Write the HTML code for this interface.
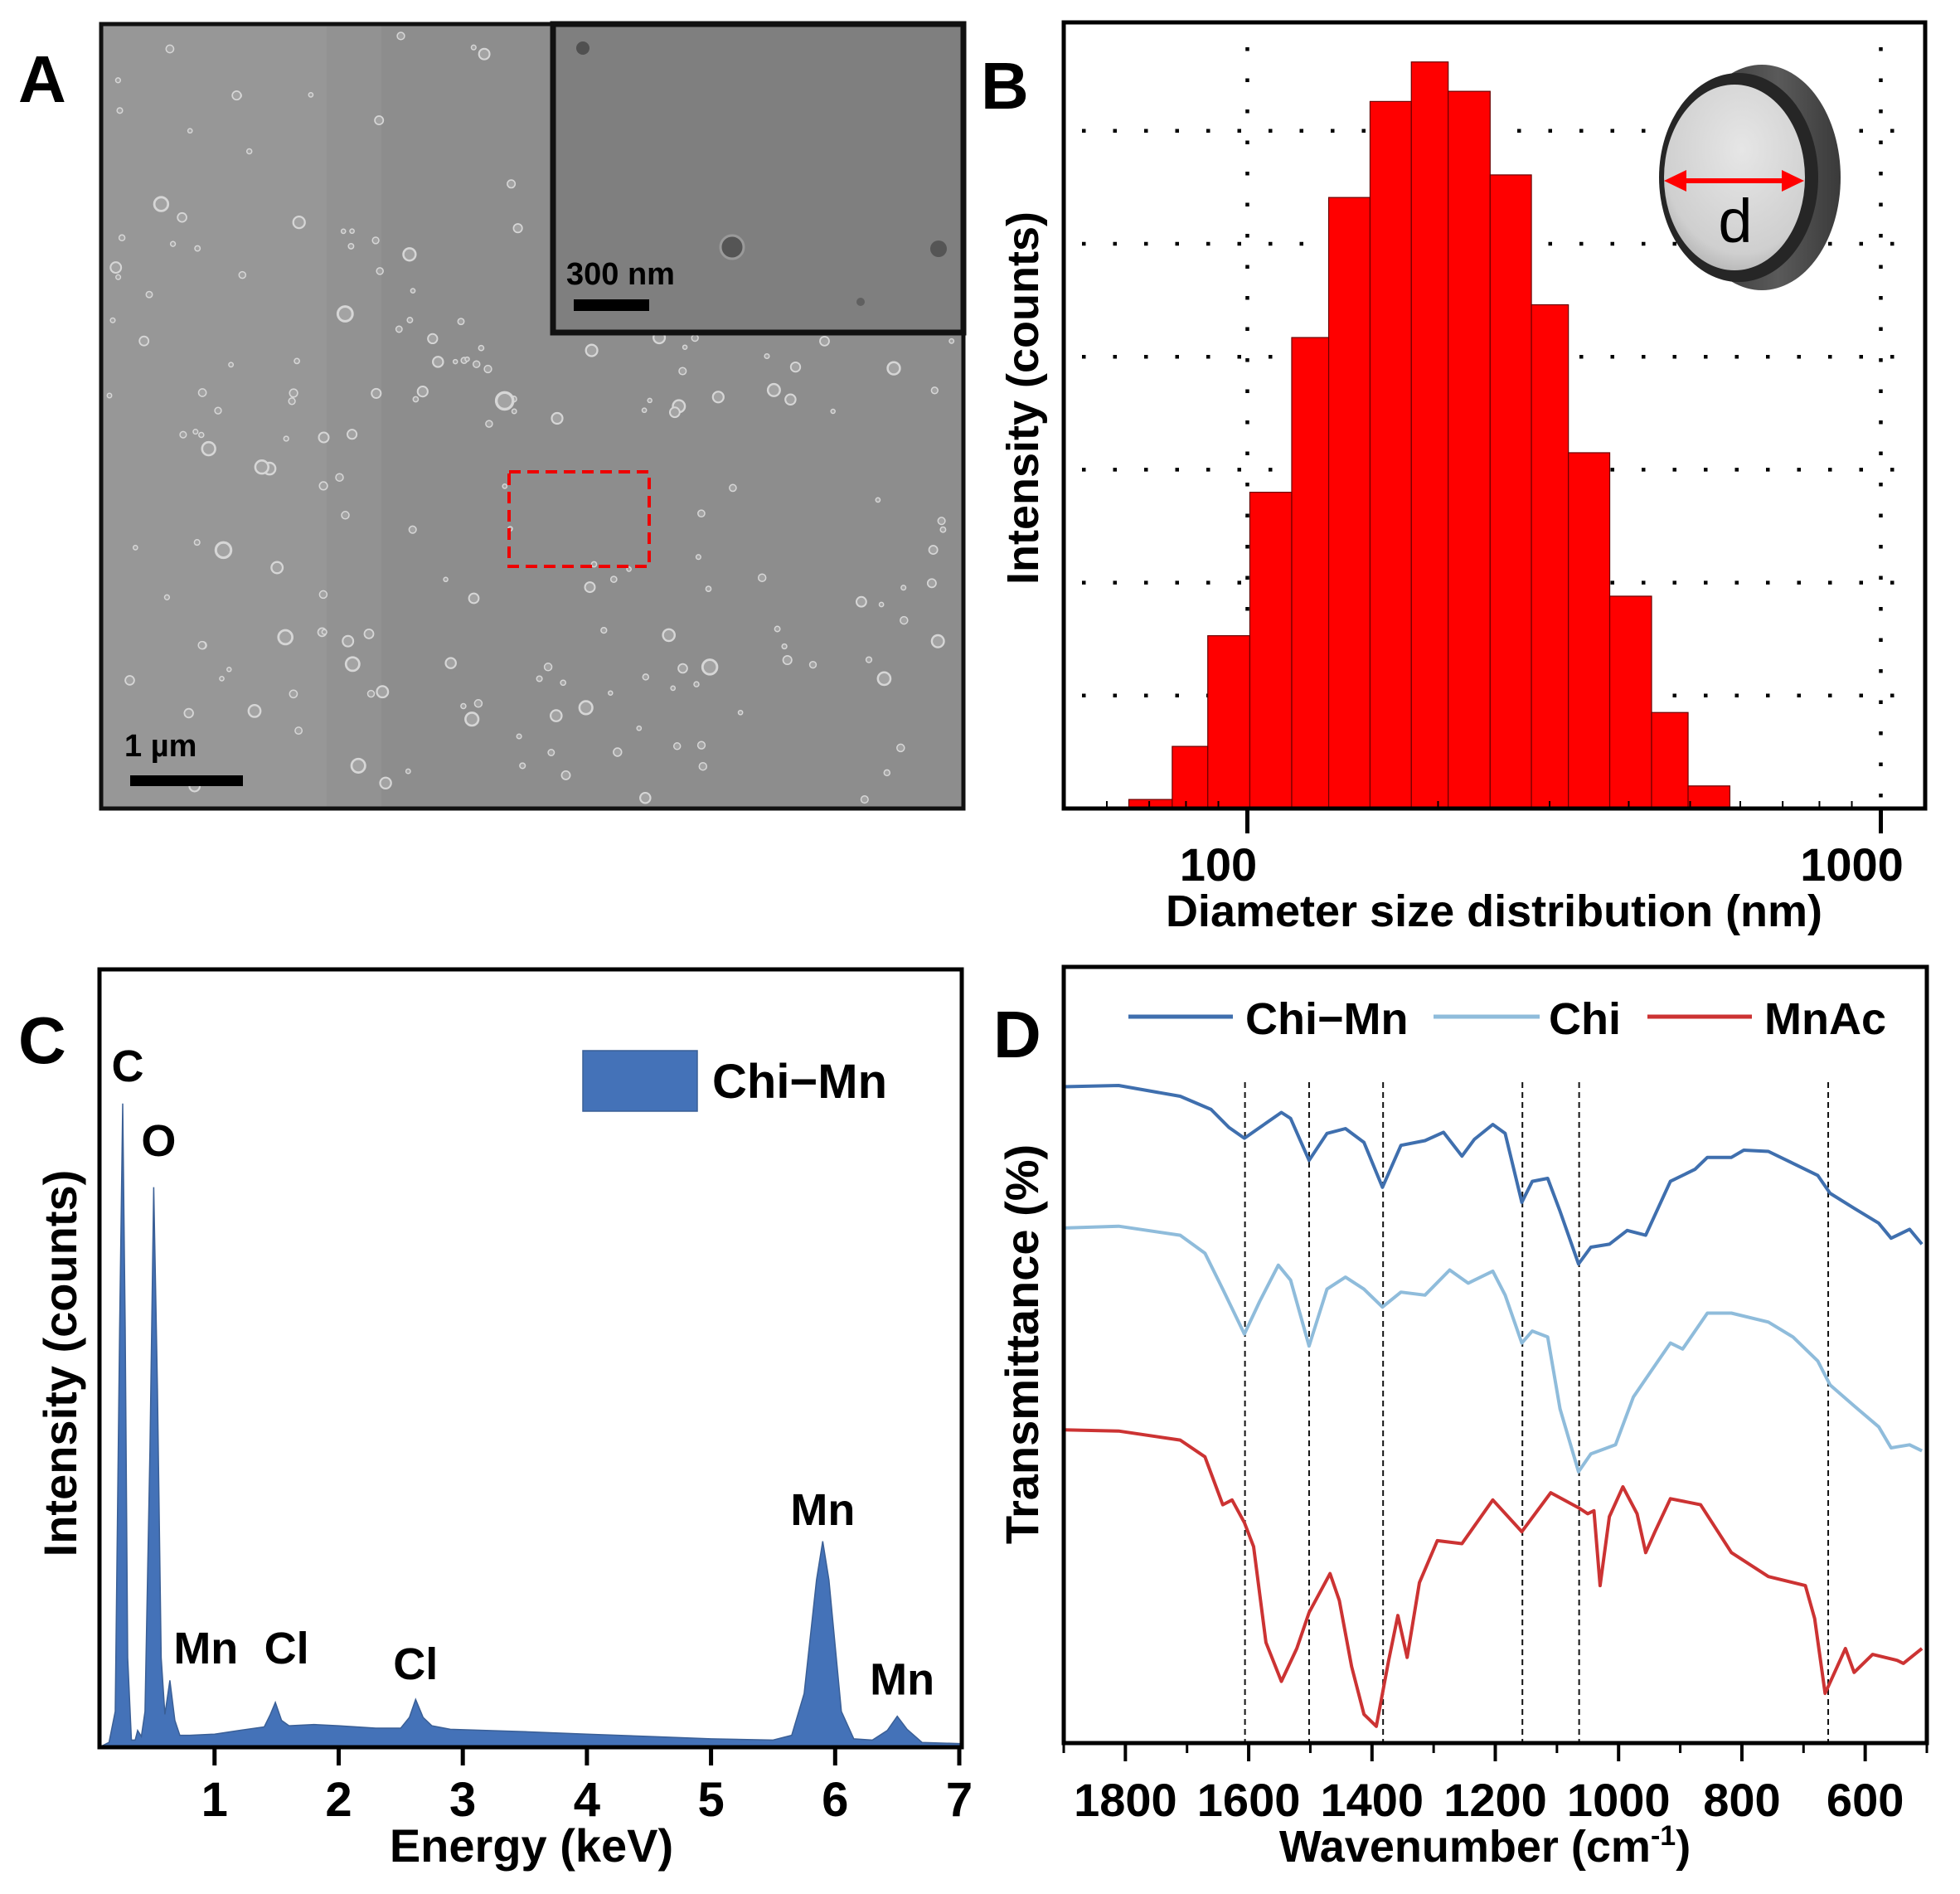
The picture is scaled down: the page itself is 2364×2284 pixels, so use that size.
<!DOCTYPE html>
<html><head><meta charset="utf-8"><style>
html,body{margin:0;padding:0;background:#fff}
svg{display:block;font-family:"Liberation Sans",Arial,sans-serif}
</style></head><body>
<svg id="fig" width="2364" height="2284" viewBox="0 0 2364 2284" xmlns="http://www.w3.org/2000/svg">
<defs>
<linearGradient id="shellG" x1="0" y1="0" x2="1" y2="0"><stop offset="0" stop-color="#2b2b2b"/><stop offset="0.6" stop-color="#5a5a5a"/><stop offset="1" stop-color="#3a3a3a"/></linearGradient>
<radialGradient id="faceG" cx="0.55" cy="0.35" r="0.7"><stop offset="0" stop-color="#e6e6e6"/><stop offset="0.8" stop-color="#cfcfcf"/><stop offset="1" stop-color="#b0b0b0"/></radialGradient>
</defs>
<!-- Panel A -->
<g id="panelA">
<rect x="122" y="29" width="1040" height="946" fill="#8d8d8d"/>
<rect x="122" y="29" width="272" height="946" fill="#979797"/>
<rect x="394" y="29" width="66" height="946" fill="#929292"/>
<g id="particles"></g>
<rect x="667" y="29" width="495" height="372" fill="#7f7f7f" stroke="#111" stroke-width="7"/>
<circle cx="703" cy="58" r="8" fill="#505050"/><circle cx="883" cy="298" r="14" fill="#555" stroke="#9a9a9a" stroke-width="3"/><circle cx="1132" cy="300" r="10" fill="#555"/><circle cx="1038" cy="364" r="5" fill="#606060"/>
<rect x="692" y="361" width="91" height="14" fill="#000"/>
<text x="683" y="343" font-size="38" font-weight="bold">300 nm</text>
<rect x="614" y="569" width="169" height="114" fill="none" stroke="#e00" stroke-width="4" stroke-dasharray="14,8"/>
<rect x="157" y="935" width="136" height="13" fill="#000"/>
<text x="150" y="912" font-size="38" font-weight="bold">1 µm</text>
<rect x="122" y="29" width="1040" height="946" fill="none" stroke="#111" stroke-width="5"/>
<text x="22" y="123" font-size="80" font-weight="bold">A</text>
</g>
<!-- Panel B -->
<g id="panelB">
<g id="bGrid"></g><g id="bBars"></g><g id="bAxis"></g>
<g>
<ellipse cx="2125" cy="214" rx="95" ry="136" fill="url(#shellG)"/>
<ellipse cx="2097" cy="214" rx="96" ry="126" fill="#262626"/>
<ellipse cx="2092" cy="214" rx="85" ry="112" fill="url(#faceG)"/>
<line x1="2022" y1="218" x2="2160" y2="218" stroke="#f00" stroke-width="6"/>
<polygon points="2007,218 2034,205 2034,231" fill="#f00"/><polygon points="2176,218 2149,205 2149,231" fill="#f00"/>
<text x="2093" y="292" font-size="74" text-anchor="middle">d</text>
</g>
<text x="1183" y="131" font-size="80" font-weight="bold">B</text>
</g>
<!-- Panel C -->
<g id="panelC"><g id="cPlot"></g>
<text x="22" y="1282" font-size="80" font-weight="bold">C</text>
</g>
<!-- Panel D -->
<g id="panelD"><g id="dPlot"></g>
<text x="1198" y="1275" font-size="80" font-weight="bold">D</text>
</g>
</svg>
<script>
// ---------- Panel B data ----------
const binEdgesNm=[65.0,76.1,86.6,100.9,117.5,134.4,156.2,181.5,207.5,241.7,280.8,321.2,373.3,434.6,496.3,577.7];
const binCounts=[0.8,5.5,15.3,28.0,41.7,54.1,62.6,66.1,63.5,56.1,44.6,31.5,18.8,8.5,2.0];
const bYGrid=[10,20,30,40,50,60];
const bXTicks=[100,1000];
const bXTickLabels=["100","1000"];
// ---------- Panel C data ----------
const edsEnergy=[0.07,0.15,0.2,0.235,0.26,0.28,0.3,0.33,0.36,0.38,0.41,0.44,0.48,0.51,0.54,0.57,0.6,0.64,0.68,0.72,0.8,1.0,1.2,1.4,1.45,1.49,1.54,1.6,1.8,2.0,2.3,2.5,2.57,2.62,2.68,2.75,2.9,3.5,4.0,4.5,5.0,5.5,5.65,5.75,5.85,5.9,5.95,6.05,6.15,6.3,6.42,6.5,6.58,6.7,7.02];
const edsCounts=[0,8,60,700,1078,700,150,12,12,28,18,60,500,938,600,150,55,112,45,20,20,22,28,34,55,75,45,36,38,36,32,32,50,80,50,36,30,26,22,18,14,12,20,90,280,345,280,60,14,12,28,52,30,8,6];
const edsTicks=[1,2,3,4,5,6,7];
const edsLabels=[{t:"C",e:0.3,c:1115},{t:"O",e:0.55,c:990},{t:"Mn",e:0.93,c:140},{t:"Cl",e:1.58,c:140},{t:"Cl",e:2.62,c:114},{t:"Mn",e:5.9,c:372},{t:"Mn",e:6.54,c:88}];
// ---------- Panel D data ----------
const chiMnWn=[1900,1811,1711,1661,1632,1607,1582,1547,1532,1502,1473,1443,1413,1383,1353,1314,1284,1254,1234,1204,1184,1157,1140,1115,1095,1065,1045,1015,986,956,916,876,856,817,797,757,717,677,657,618,578,558,528,508];
const chiMnT=[109.6,109.8,108,105.8,102.8,101,102.8,105.3,104.3,97.3,101.8,102.6,100.3,92.8,99.8,100.6,102,98,100.8,103.3,101.8,90.3,93.8,94.3,88.8,80,82.8,83.3,85.6,84.8,93.8,95.8,97.8,97.8,99,98.8,96.8,94.8,91.8,89.3,86.8,84.3,85.8,83.3];
const chiWn=[1900,1811,1711,1671,1642,1607,1582,1552,1532,1502,1473,1443,1413,1383,1353,1314,1274,1244,1204,1184,1157,1140,1115,1095,1065,1045,1005,976,936,916,896,856,817,757,717,677,657,618,578,558,528,508];
const chiT=[86,86.3,84.8,81.8,75.8,68.3,73.8,79.8,77.3,66.3,75.8,77.8,75.8,72.8,75.3,74.8,79,76.8,78.8,74.8,66.8,68.8,67.8,55.8,45.3,48.3,49.8,57.8,63.8,66.8,65.8,71.8,71.8,70.3,67.8,63.8,59.8,56.3,52.8,49.3,49.8,48.8];
const mnAcWn=[1900,1811,1711,1671,1642,1627,1607,1592,1572,1547,1522,1502,1468,1453,1433,1413,1393,1373,1358,1343,1323,1294,1254,1204,1157,1110,1065,1050,1040,1030,1015,993,970,956,941,916,867,817,757,697,682,665,632,618,588,548,538,508];
const mnAcT=[52.3,52.1,50.6,47.8,39.8,40.6,36.8,32.8,16.8,10.3,15.8,21.8,28.3,23.8,12.8,4.8,2.8,13.8,21.3,14.3,26.8,33.8,33.3,40.6,35.3,41.8,39.3,38.3,38.8,26.3,37.8,42.8,38.3,31.8,35.3,40.8,39.8,31.8,27.8,26.3,20.8,8.3,15.8,11.8,14.8,13.8,13.3,15.8];
const dashWn=[1606,1502,1382,1156,1064,660];
const dTicks=[1800,1600,1400,1200,1000,800,600];
const dMinor=[1900,1700,1500,1300,1100,900,700,500];

const NS="http://www.w3.org/2000/svg";
function mk(parent,tag,attrs,text){const e=document.createElementNS(NS,tag);for(const k in attrs)e.setAttribute(k,attrs[k]);if(text!==undefined)e.textContent=text;parent.appendChild(e);return e;}

// ---- SEM particles (decorative texture) ----
(function(){const g=document.getElementById('particles');let s=12345;function r(){s=(s*1103515245+12345)%2147483648;return s/2147483648;}
for(let i=0;i<230;i++){const x=130+r()*1025,y=36+r()*930;if(x>660&&y<405)continue;const rad=2.5+r()*r()*8;
const c=mk(g,'circle',{cx:x.toFixed(1),cy:y.toFixed(1),r:rad.toFixed(1),fill:'#a3a3a3',stroke:'#d6d6d6','stroke-width':Math.max(1.5,rad/3).toFixed(1)});

}})();

// ---- Panel B ----
(function(){const L=1283,R=2322,T=27,B=975;
const lmin=Math.log10(51.3),lmax=Math.log10(1175);
const xs=d=>L+(Math.log10(d)-lmin)/(lmax-lmin)*(R-L);
const ys=v=>B-v*13.62;
const grid=document.getElementById('bGrid'),bars=document.getElementById('bBars'),ax=document.getElementById('bAxis');
bYGrid.forEach(v=>{const l=mk(grid,'line',{x1:L+22,x2:R-10,y1:ys(v),y2:ys(v),stroke:'#000','stroke-width':4.5,'stroke-dasharray':'4.5,33'});

});
bXTicks.forEach(t=>{const l=mk(grid,'line',{x1:xs(t),x2:xs(t),y1:T+30,y2:B-8,stroke:'#000','stroke-width':4.5,'stroke-dasharray':'4.5,33'});

});
binCounts.forEach((v,i)=>{const x0=xs(binEdgesNm[i]),x1=xs(binEdgesNm[i+1]);
const r=mk(bars,'rect',{x:x0,y:ys(v),width:x1-x0,height:B-ys(v),fill:'#ff0000',stroke:'#6a0000','stroke-width':1.2});

});
const f=mk(ax,'rect',{x:L,y:T,width:R-L,height:B-T,fill:'none',stroke:'#000','stroke-width':5});


bXTicks.forEach((t,i)=>{mk(ax,'line',{x1:xs(t),x2:xs(t),y1:B,y2:B+30,stroke:'#000','stroke-width':5});
const tx=mk(ax,'text',{x:xs(t)-35,y:1062,'font-size':56,'font-weight':'bold','text-anchor':'middle'},bXTickLabels[i]);

});
[60,70,80,90,200,300,400,500,600,700,800,900].forEach(t=>mk(ax,'line',{x1:xs(t),x2:xs(t),y1:B,y2:B-9,stroke:'#000','stroke-width':2}));
const xt=mk(ax,'text',{x:1802,y:1117,'font-size':54,'font-weight':'bold','text-anchor':'middle'},'Diameter size distribution (nm)');


const yt=mk(ax,'text',{x:0,y:0,'font-size':54,'font-weight':'bold','text-anchor':'middle',transform:'translate(1252,480) rotate(-90)'},'Intensity (counts)');

})();

// ---- Panel C ----
(function(){const L=120,R=1160,T=1169,B=2107;const g=document.getElementById('cPlot');
const xs=e=>L+(e-0.073)/(7.02-0.073)*(R-L);const ys=c=>B-c*0.72;
let d='M'+xs(edsEnergy[0])+','+B;edsEnergy.forEach((e,i)=>{d+=' L'+xs(e).toFixed(1)+','+ys(edsCounts[i]).toFixed(1);});d+=' L'+xs(edsEnergy[edsEnergy.length-1])+','+B+' Z';
const p=mk(g,'path',{d:d,fill:'#4472b8',stroke:'#3a5f96','stroke-width':1.5});


const f=mk(g,'rect',{x:L,y:T,width:R-L,height:B-T,fill:'none',stroke:'#000','stroke-width':5});


edsTicks.forEach(t=>{mk(g,'line',{x1:xs(t),x2:xs(t),y1:B,y2:B+22,stroke:'#000','stroke-width':5});
const tx=mk(g,'text',{x:xs(t),y:2190,'font-size':58,'font-weight':'bold','text-anchor':'middle'},String(t));

});
edsLabels.forEach(o=>{const tx=mk(g,'text',{x:xs(o.e),y:ys(o.c),'font-size':54,'font-weight':'bold','text-anchor':'middle'},o.t);

});
const lr=mk(g,'rect',{x:703,y:1267,width:138,height:73,fill:'#4472b8',stroke:'#3a5f96','stroke-width':1.5});


const lt=mk(g,'text',{x:859,y:1324,'font-size':58,'font-weight':'bold'},'Chi\u2212Mn');


const xt=mk(g,'text',{x:641,y:2245,'font-size':56,'font-weight':'bold','text-anchor':'middle'},'Energy (keV)');


const yt=mk(g,'text',{x:0,y:0,'font-size':56,'font-weight':'bold','text-anchor':'middle',transform:'translate(92,1644) rotate(-90)'},'Intensity (counts)');

})();

// ---- Panel D ----
(function(){const L=1283,R=2324,T=1166,B=2102;const g=document.getElementById('dPlot');
const xs=w=>L+(1900-w)/1400*(R-L);const ys=t=>B-t*7.222;
dashWn.forEach(w=>{const l=mk(g,'line',{x1:xs(w),x2:xs(w),y1:1305,y2:B,stroke:'#111','stroke-width':2,'stroke-dasharray':'7,5'});

});
function series(wn,tv,col,name){let d='';wn.forEach((w,i)=>{d+=(i?' L':'M')+xs(w).toFixed(1)+','+ys(tv[i]).toFixed(1);});
const p=mk(g,'path',{d:d,fill:'none',stroke:col,'stroke-width':4,'stroke-linejoin':'round'});

}
series(chiMnWn,chiMnT,'#3f6fae','chi-mn-spectrum');
series(chiWn,chiT,'#8fbcdb','chi-spectrum');
series(mnAcWn,mnAcT,'#cc3333','mnac-spectrum');
const f=mk(g,'rect',{x:L,y:T,width:R-L,height:B-T,fill:'none',stroke:'#000','stroke-width':5});


dTicks.forEach(t=>{mk(g,'line',{x1:xs(t),x2:xs(t),y1:B,y2:B+22,stroke:'#000','stroke-width':4});
const tx=mk(g,'text',{x:xs(t),y:2190,'font-size':56,'font-weight':'bold','text-anchor':'middle'},String(t));

});
dMinor.forEach(t=>mk(g,'line',{x1:xs(t),x2:xs(t),y1:B,y2:B+12,stroke:'#000','stroke-width':3}));
const leg=[['#3f6fae',1361,1487,1502,'Chi\u2212Mn'],['#8fbcdb',1729,1857,1868,'Chi'],['#cc3333',1987,2113,2128,'MnAc']];
leg.forEach(o=>{const l=mk(g,'line',{x1:o[1],x2:o[2],y1:1226,y2:1226,stroke:o[0],'stroke-width':5});


const tx=mk(g,'text',{x:o[3],y:1247,'font-size':54,'font-weight':'bold'},o[4]);

});
const xt=mk(g,'text',{x:1791,y:2245,'font-size':54,'font-weight':'bold','text-anchor':'middle'});


xt.appendChild(document.createTextNode('Wavenumber (cm'));
const sup=mk(xt,'tspan',{dy:-20,'font-size':34},'-1');
mk(xt,'tspan',{dy:20},')');
const yt=mk(g,'text',{x:0,y:0,'font-size':56,'font-weight':'bold','text-anchor':'middle',transform:'translate(1252,1621) rotate(-90)'},'Transmittance (%)');

})();
</script>
</body></html>
